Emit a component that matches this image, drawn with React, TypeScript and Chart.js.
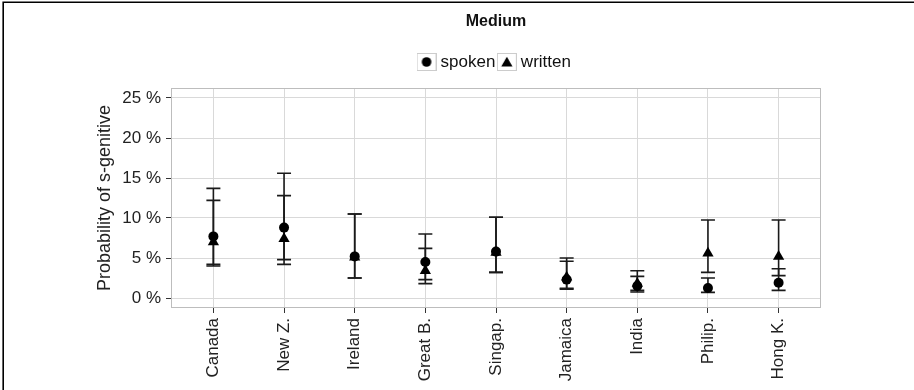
import React, { useEffect, useRef } from 'react';
import { Chart, registerables } from 'chart.js';

Chart.register(...registerables);

// ---- data ----
const categories = ['Canada', 'New Z.', 'Ireland', 'Great B.', 'Singap.', 'Jamaica', 'India', 'Philip.', 'Hong K.'];
const seriesNames = ['spoken', 'written'];

const spoken = [7.7, 8.8, 5.2, 4.5, 5.8, 2.3, 1.5, 1.25, 1.9];
const spokenLo = [4.2, 4.2, 2.5, 2.3, 3.2, 1.1, 0.75, 0.7, 0.95];
const spokenHi = [13.7, 15.6, 10.5, 8.0, 10.1, 4.6, 2.7, 2.5, 3.65];

const written = [7.0, 7.4, 5.1, 3.4, 5.7, 2.6, 1.8, 5.6, 5.2];
const writtenLo = [4.0, 4.8, 2.5, 1.8, 3.2, 1.2, 0.95, 3.2, 2.8];
const writtenHi = [12.2, 12.8, 10.5, 6.2, 10.1, 5.0, 3.4, 9.75, 9.75];

const yTickValues = [0, 2.5, 5, 7.5, 10, 12.5, 15, 17.5, 20, 22.5, 25];
const yLabelStep = 5;
const chartTitle = 'Medium';
const yAxisTitle = 'Probability of s-genitive';

const FONT = "'Liberation Sans', Arial, Helvetica, sans-serif";
const INK = '#1a1a1a';

function makeKey(shape: string): HTMLCanvasElement {
  const c = document.createElement('canvas');
  c.width = 20;
  c.height = 18;
  const g = c.getContext('2d')!;
  g.fillStyle = '#ffffff';
  g.fillRect(0, 0, 20, 18);
  g.strokeStyle = '#cccccc';
  g.lineWidth = 1;
  g.strokeRect(0.5, 0.5, 19, 17);
  g.fillStyle = '#000000';
  g.beginPath();
  if (shape === 'circle') {
    g.arc(10, 9, 4.8, 0, Math.PI * 2);
  } else {
    g.moveTo(10, 3.8);
    g.lineTo(15.6, 13.6);
    g.lineTo(4.4, 13.6);
    g.closePath();
  }
  g.fill();
  return c;
}

const panelAndErrorBars = {
  id: 'panelAndErrorBars',
  beforeDatasetsDraw(chart: any) {
    const { ctx, chartArea, scales } = chart;
    const xs = scales.x;
    const ys = scales.y;
    ctx.save();
    // panel border
    ctx.strokeStyle = '#bdbdbd';
    ctx.lineWidth = 1;
    ctx.strokeRect(
      Math.round(chartArea.left) + 0.5,
      Math.round(chartArea.top) + 0.5,
      Math.round(chartArea.right - chartArea.left) - 1,
      Math.round(chartArea.bottom - chartArea.top) - 1
    );
    // error bars
    ctx.strokeStyle = INK;
    ctx.lineWidth = 1.6;
    chart.data.datasets.forEach((ds: any) => {
      ds.data.forEach((pt: any, i: number) => {
        const px = xs.getPixelForValue(pt.x);
        const pl = ys.getPixelForValue(ds.errLo[i]);
        const ph = ys.getPixelForValue(ds.errHi[i]);
        ctx.beginPath();
        ctx.moveTo(px, pl);
        ctx.lineTo(px, ph);
        ctx.moveTo(px - 7, pl);
        ctx.lineTo(px + 7, pl);
        ctx.moveTo(px - 7, ph);
        ctx.lineTo(px + 7, ph);
        ctx.stroke();
      });
    });
    ctx.restore();
  },
  afterDraw(chart: any) {
    const { ctx, width, height } = chart;
    ctx.save();
    ctx.strokeStyle = '#000000';
    ctx.lineWidth = 1.6;
    ctx.beginPath();
    ctx.moveTo(3.2, height);
    ctx.lineTo(3.2, 2.2);
    ctx.lineTo(width, 2.2);
    ctx.stroke();
    ctx.restore();
  },
};

export default function App() {
  const ref = useRef<HTMLCanvasElement>(null);

  useEffect(() => {
    if (!ref.current) return;
    const keys = [makeKey('circle'), makeKey('triangle')];
    const chart = new Chart(ref.current, {
      type: 'scatter',
      data: {
        datasets: [
          {
            label: seriesNames[0],
            data: categories.map((_, i) => ({ x: i, y: spoken[i] })),
            errLo: spokenLo,
            errHi: spokenHi,
            pointStyle: 'circle',
            pointRadius: 5,
            borderWidth: 0,
            backgroundColor: '#000000',
            borderColor: '#000000',
          } as any,
          {
            label: seriesNames[1],
            data: categories.map((_, i) => ({ x: i, y: written[i] })),
            errLo: writtenLo,
            errHi: writtenHi,
            pointStyle: 'triangle',
            pointRadius: 6.5,
            borderWidth: 0,
            backgroundColor: '#000000',
            borderColor: '#000000',
          } as any,
        ],
      },
      options: {
        responsive: false,
        maintainAspectRatio: false,
        devicePixelRatio: 1,
        animation: false,
        events: [],
        layout: { padding: { left: 84, right: 93, top: 0, bottom: 0 } },
        plugins: {
          tooltip: { enabled: false },
          title: {
            display: true,
            text: chartTitle,
            fullSize: false,
            color: '#111111',
            font: { family: FONT, size: 16, weight: 'bold' },
            padding: { top: 12, bottom: 16.3 },
          },
          legend: {
            display: true,
            position: 'top',
            fullSize: false,
            labels: {
              usePointStyle: true,
              pointStyleWidth: 11,
              padding: 6,
              color: '#111111',
              font: { family: FONT, size: 17 },
              generateLabels: (c: any) =>
                c.data.datasets.map((ds: any, i: number) => ({
                  text: ds.label,
                  pointStyle: keys[i],
                  fillStyle: '#000000',
                  strokeStyle: '#000000',
                  lineWidth: 0,
                  hidden: false,
                  datasetIndex: i,
                  fontColor: '#111111',
                })),
            },
          },
        },
        scales: {
          x: {
            type: 'linear',
            position: 'bottom',
            min: -0.6,
            max: 8.6,
            afterBuildTicks: (s: any) => {
              s.ticks = categories.map((_, i) => ({ value: i }));
            },
            afterFit: (s: any) => {
              s.height = 82;
            },
            grid: {
              color: '#d9d9d9',
              lineWidth: 1,
              drawTicks: true,
              tickLength: 5,
              tickColor: '#333333',
              tickWidth: 1,
            },
            border: { display: false },
            ticks: {
              autoSkip: false,
              minRotation: 90,
              maxRotation: 90,
              padding: 5,
              color: '#222222',
              font: { family: FONT, size: 17 },
              callback: (v: any) => categories[v] ?? '',
            },
          },
          x2: {
            type: 'linear',
            axis: 'x',
            position: 'top',
            display: true,
            grid: { display: false, drawTicks: false },
            border: { display: false },
            ticks: { display: false },
            afterFit: (s: any) => {
              s.height = 7.5;
            },
          },
          y: {
            type: 'linear',
            position: 'left',
            min: -1.25,
            max: 26.25,
            afterBuildTicks: (s: any) => {
              s.ticks = yTickValues.map((v) => ({ value: v }));
            },
            afterFit: (s: any) => {
              s.width = 87;
            },
            grid: {
              color: (c: any) => (c.tick && c.tick.value % yLabelStep !== 0 ? '#b5b5b5' : '#d9d9d9'),
              lineWidth: 1,
              drawTicks: true,
              tickLength: 5,
              tickColor: (c: any) => (c.tick && c.tick.value % yLabelStep !== 0 ? 'rgba(0,0,0,0)' : '#333333'),
              tickWidth: 1,
            },
            border: {
              display: false,
              dash: (c: any) => (c.tick && c.tick.value % yLabelStep !== 0 ? [1.2, 2.8] : []),
            },
            title: {
              display: true,
              text: yAxisTitle,
              color: '#222222',
              font: { family: FONT, size: 18 },
              padding: { top: 10.2, bottom: 0 },
            },
            ticks: {
              padding: 5,
              color: '#222222',
              font: { family: FONT, size: 17 },
              callback: (v: any) => (v % yLabelStep === 0 ? `${v} %` : ''),
            },
          },
        },
      } as any,
      plugins: [panelAndErrorBars],
    });
    return () => chart.destroy();
  }, []);

  return (
    <div style={{ position: 'fixed', left: 0, top: 0, width: 914, height: 390, background: '#ffffff' }}>
      <canvas ref={ref} width={914} height={390} style={{ display: 'block', width: 914, height: 390 }} />
    </div>
  );
}
